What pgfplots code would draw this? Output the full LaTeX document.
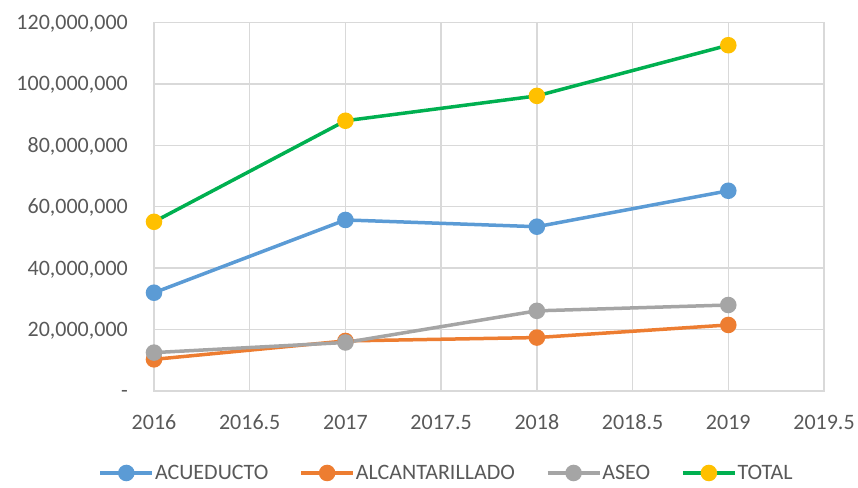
\documentclass[border=0pt]{standalone}
\usepackage{fontspec}
\setmainfont{Carlito}
\usepackage{pgfplots}
\pgfplotsset{compat=1.18}
\definecolor{acu}{HTML}{5B9BD5}
\definecolor{alc}{HTML}{ED7D31}
\definecolor{aseo}{HTML}{A5A5A5}
\definecolor{totl}{HTML}{00B050}
\definecolor{totm}{HTML}{FFC000}
\definecolor{txt}{HTML}{595959}
\definecolor{grd}{HTML}{D9D9D9}

\begin{document}
\begin{tikzpicture}[x=1bp,y=1bp]
\path[use as bounding box] (0,0) rectangle (858,488);
\begin{axis}[
  at={(154bp,97bp)}, anchor=south west,
  scale only axis,
  width=670bp, height=368.5bp,
  xmin=2016, xmax=2019.5,
  ymin=0, ymax=120000000,
  xtick={2016,2016.5,2017,2017.5,2018,2018.5,2019,2019.5},
  xticklabels={2016,2016.5,2017,2017.5,2018,2018.5,2019,2019.5},
  ytick={0,20000000,40000000,60000000,80000000,100000000,120000000},
  yticklabels={-,{20,000,000},{40,000,000},{60,000,000},{80,000,000},{100,000,000},{120,000,000}},
  scaled ticks=false,
  major tick length=0pt,
  grid=major,
  grid style={grd, line width=1.5bp},
  axis line style={grd, line width=1.5bp},
  font={\fontsize{22bp}{26bp}\selectfont},
  ticklabel style={txt},
  yticklabel style={anchor=base east, inner sep=0pt, xshift=-26bp, yshift=-7bp},
  xticklabel style={anchor=base, inner sep=0pt, yshift=-39bp},
  every axis plot/.append style={line width=3.5bp, mark=*, mark size=6.5bp},
  legend columns=4,
  legend style={at={(0.436,-0.2225)}, anchor=center, draw=none, fill=none,
    font={\fontsize{22bp}{26bp}\selectfont}, text=txt,
    /tikz/every even column/.append style={column sep=30bp},
    nodes={inner sep=1bp}},
  legend image code/.code={\draw[mark repeat=2,mark phase=2,#1] plot coordinates {(0bp,0bp) (26bp,0bp) (52bp,0bp)};},
]
\addplot[acu, mark options={fill=acu, draw=acu}] coordinates {
  (2016,32000000) (2017,55700000) (2018,53500000) (2019,65200000)};
\addlegendentry{ACUEDUCTO}
\addplot[alc, mark options={fill=alc, draw=alc}] coordinates {
  (2016,10300000) (2017,16300000) (2018,17400000) (2019,21500000)};
\addlegendentry{ALCANTARILLADO}
\addplot[aseo, mark options={fill=aseo, draw=aseo}] coordinates {
  (2016,12500000) (2017,15800000) (2018,26100000) (2019,28000000)};
\addlegendentry{ASEO}
\addplot[totl, mark options={fill=totm, draw=totm}] coordinates {
  (2016,55100000) (2017,88000000) (2018,96100000) (2019,112600000)};
\addlegendentry{TOTAL}
\end{axis}
\end{tikzpicture}
\end{document}
